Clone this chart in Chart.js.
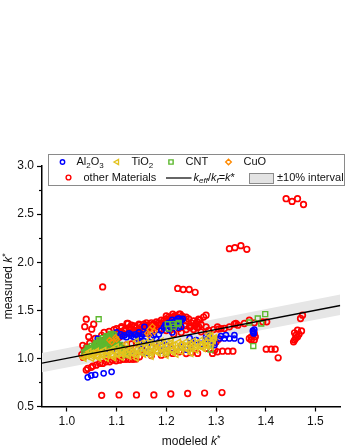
<!DOCTYPE html>
<html><head><meta charset="utf-8">
<script src="https://cdn.jsdelivr.net/npm/chart.js@4.4.1/dist/chart.umd.min.js"></script>
<style>html,body{margin:0;padding:0;background:#fff}#wrap{width:346px;height:448px;position:relative}</style>
</head><body><div id="wrap"><canvas id="c" width="346" height="448"></canvas></div>
<script>
// ---------- data ----------
const xTicks = [1.0, 1.1, 1.2, 1.3, 1.4, 1.5];
const yTicks = [0.5, 1.0, 1.5, 2.0, 2.5, 3.0];
const yMinorTicks = [0.75, 1.25, 1.75, 2.25, 2.75];
const xRange = [0.95, 1.55];
const yRange = [0.5, 3.0];
const lineX = [0.95, 1.55];
const lineY = [0.95, 1.55];
const bandUpper = [1.055, 1.665];
const bandLower = [0.855, 1.45];

const al2o3 = [
 [1.042,0.803],[1.049,0.823],[1.057,0.83],[1.074,0.845],[1.090,0.86],
 [1.080,1.05],[1.100,1.07],[1.130,1.08],[1.150,1.10],[1.170,1.12],[1.190,1.08],[1.210,1.10],[1.230,1.12],[1.250,1.14],[1.270,1.15],[1.120,1.04],[1.160,1.06],[1.200,1.14],[1.240,1.09],
 [1.116,1.24],[1.125,1.26],[1.130,1.235],[1.138,1.25],[1.145,1.27],[1.150,1.23],[1.120,1.22],[1.156,1.328],[1.160,1.26],[1.170,1.22],[1.175,1.24],[1.180,1.20],[1.185,1.25],[1.190,1.29],[1.195,1.32],[1.200,1.338],[1.205,1.30],[1.210,1.36],[1.215,1.38],[1.223,1.415],[1.230,1.397],[1.226,1.415],[1.220,1.34],[1.230,1.33],[1.212,1.27],[1.062,1.207],[1.100,1.27],[1.108,1.25],
 [1.198,1.35],[1.205,1.37],[1.212,1.40],[1.218,1.39],[1.222,1.37],[1.227,1.39],[1.233,1.41],[1.217,1.35],[1.208,1.33],[1.225,1.32],
 [1.112,1.23],[1.128,1.25],[1.135,1.22],[1.142,1.24],[1.152,1.25],[1.148,1.21],
 [1.146,1.17],[1.155,1.18],[1.186,1.17],[1.247,1.21],[1.260,1.19],[1.280,1.225],[1.283,1.20],[1.290,1.18],[1.295,1.16],[1.297,1.14],[1.287,1.24],
 [1.307,1.207],[1.317,1.207],[1.327,1.207],[1.337,1.207],[1.310,1.231],[1.320,1.242],[1.337,1.242],[1.350,1.183],[1.374,1.286],[1.376,1.259],[1.377,1.30],[1.375,1.27]
];
const tio2 = [
 [1.035,1.0],[1.05,1.0],[1.065,1.0],[1.08,1.0],[1.095,1.005],[1.11,1.01],[1.125,1.02],[1.14,1.03],[1.155,1.04],[1.17,1.045],[1.185,1.05],[1.20,1.055],[1.215,1.06],[1.23,1.07],[1.245,1.08],[1.26,1.085],
 [1.032,1.02],[1.042,1.02],[1.052,1.02],[1.062,1.025],[1.072,1.025],[1.082,1.03],[1.092,1.03],[1.102,1.035],[1.112,1.04],[1.122,1.04],[1.132,1.045],[1.142,1.05],[1.152,1.055],[1.162,1.06],[1.172,1.065],[1.182,1.07],[1.192,1.075],[1.202,1.08],[1.212,1.085],[1.222,1.09],[1.232,1.095],[1.242,1.10],[1.252,1.105],[1.262,1.11],[1.272,1.12],[1.282,1.125],[1.292,1.16],
 [1.04,1.04],[1.055,1.04],[1.07,1.045],[1.085,1.05],[1.10,1.055],[1.115,1.06],[1.13,1.065],[1.145,1.07],[1.16,1.08],[1.175,1.09],[1.19,1.10],[1.205,1.10],[1.22,1.11],[1.235,1.12],[1.25,1.125],[1.265,1.13],[1.28,1.14],
 [1.05,1.055],[1.065,1.06],[1.08,1.065],[1.095,1.07],[1.11,1.08],[1.125,1.085],[1.14,1.095],[1.155,1.105],[1.17,1.115],[1.185,1.125],[1.20,1.13],[1.215,1.14],[1.23,1.145],[1.245,1.15],[1.26,1.16],[1.275,1.165],[1.295,1.185],[1.29,1.24],[1.298,1.22],
 [1.045,1.07],[1.06,1.075],[1.075,1.085],[1.09,1.09],[1.105,1.095],[1.12,1.105],[1.135,1.115],[1.15,1.13],[1.165,1.14],[1.18,1.15],[1.195,1.16],[1.21,1.165],[1.225,1.17],[1.24,1.175],[1.255,1.18],[1.27,1.19],[1.285,1.21],
 [1.28,1.17],[1.29,1.23],[1.285,1.25],[1.295,1.20],[1.29,1.12],[1.275,1.10],[1.14,1.18],[1.16,1.17],[1.12,1.15],[1.10,1.12],
 [1.15,1.16],[1.17,1.17],[1.19,1.18],[1.21,1.19],
 [1.17,1.02],[1.20,1.03],[1.22,1.04],[1.25,1.05],[1.14,1.0]
];
const cnt = [
 [1.064,1.408],
 [1.035,1.06],[1.04,1.08],[1.045,1.10],[1.05,1.09],[1.055,1.12],[1.06,1.11],[1.062,1.14],[1.068,1.13],[1.07,1.16],[1.075,1.15],[1.078,1.19],[1.082,1.17],[1.085,1.22],[1.088,1.20],[1.089,1.255],[1.092,1.15],[1.095,1.24],[1.065,1.19],[1.058,1.15],[1.05,1.13],[1.042,1.11],[1.072,1.21],[1.08,1.23],[1.098,1.13],[1.105,1.12],[1.11,1.10],[1.116,1.06],[1.118,1.034],
 [1.038,1.07],[1.046,1.085],[1.052,1.10],[1.057,1.105],[1.063,1.12],[1.068,1.15],[1.073,1.17],[1.077,1.165],[1.08,1.20],[1.084,1.19],[1.087,1.235],[1.091,1.22],[1.094,1.20],[1.097,1.18],[1.10,1.16],[1.102,1.14],[1.09,1.13],[1.083,1.14],[1.076,1.125],[1.07,1.11],[1.062,1.095],[1.055,1.08],[1.048,1.065],[1.085,1.16],[1.079,1.215],[1.093,1.25],[1.099,1.20],[1.107,1.14],[1.113,1.08],[1.06,1.16],[1.066,1.175],
 [1.203,1.356],[1.213,1.356],[1.223,1.356],[1.205,1.31],[1.215,1.33],[1.225,1.37],
 [1.201,1.062],[1.289,1.093],
 [1.367,1.373],[1.384,1.415],[1.399,1.46],[1.391,1.363],[1.375,1.128]
];
const cuo = [
 [1.086,1.19],[1.098,1.218],[1.09,1.17],[1.10,1.20],[1.162,1.26],[1.167,1.30],[1.172,1.33],[1.176,1.28],[1.165,1.24],[1.18,1.12],[1.21,1.13],[1.23,1.15],[1.13,1.10],[1.06,1.06],[1.25,1.16]
];
const otherMaterials = [
 [1.070,0.616],[1.105,0.62],[1.140,0.62],[1.175,0.62],[1.209,0.63],[1.243,0.635],[1.277,0.64],[1.312,0.645],
 [1.441,2.66],[1.453,2.632],[1.464,2.66],[1.476,2.60],
 [1.327,2.141],[1.338,2.151],[1.350,2.172],[1.362,2.134],
 [1.223,1.727],[1.234,1.716],[1.246,1.716],[1.258,1.687],
 [1.072,1.743],
 [1.039,1.408],[1.036,1.33],[1.050,1.304],[1.054,1.356],[1.044,1.226],[1.032,1.135],[1.046,1.158],[1.057,1.207],[1.042,1.085],[1.030,1.04],[1.035,1.08],[1.040,1.12],[1.033,1.01],
 [1.109,1.317],[1.123,1.363],[1.136,1.335],[1.150,1.328],[1.160,1.37],[1.170,1.37],[1.180,1.38],[1.190,1.397],[1.200,1.442],[1.213,1.432],[1.226,1.46],[1.213,1.46],[1.228,1.46],[1.265,1.408],[1.280,1.449],[1.250,1.338],[1.280,1.328],[1.270,1.276],[1.247,1.335],
 [1.121,1.363],[1.135,1.335],[1.146,1.345],[1.126,1.294],[1.139,1.276],[1.113,1.259],[1.099,1.231],[1.086,1.156],[1.092,1.218],
 [1.105,1.28],[1.118,1.30],[1.130,1.31],[1.145,1.30],[1.158,1.34],[1.165,1.31],[1.175,1.345],[1.185,1.35],[1.195,1.37],[1.205,1.40],[1.215,1.405],[1.225,1.42],[1.235,1.42],[1.240,1.39],[1.250,1.37],[1.260,1.36],[1.255,1.30],[1.262,1.32],[1.240,1.30],[1.230,1.27],[1.215,1.25],[1.190,1.30],[1.170,1.28],[1.155,1.27],[1.100,1.19],[1.080,1.19],[1.070,1.24],[1.065,1.17],[1.075,1.14],[1.095,1.145],
 [1.110,1.33],[1.115,1.29],[1.125,1.32],[1.130,1.345],[1.140,1.32],[1.145,1.355],[1.155,1.355],[1.160,1.32],[1.165,1.35],[1.175,1.36],[1.180,1.33],[1.185,1.37],[1.190,1.36],[1.195,1.39],[1.200,1.41],[1.205,1.43],[1.210,1.42],[1.218,1.445],[1.220,1.43],[1.232,1.44],[1.240,1.43],[1.245,1.41],[1.255,1.39],[1.262,1.38],[1.268,1.40],[1.275,1.43],[1.270,1.35],[1.265,1.33],[1.258,1.34],[1.248,1.32],[1.238,1.34],[1.225,1.31],[1.210,1.32],[1.200,1.29],[1.185,1.30],[1.170,1.32],[1.155,1.30],[1.140,1.29],[1.125,1.27],[1.110,1.25],[1.105,1.22],[1.090,1.24],[1.082,1.21],[1.075,1.27],[1.085,1.28],[1.095,1.30],[1.100,1.31],
 [1.060,1.10],[1.080,1.12],[1.100,1.13],[1.120,1.14],[1.140,1.16],[1.050,1.07],[1.070,1.10],[1.090,1.11],[1.110,1.125],[1.130,1.15],
 [1.039,0.879],[1.049,0.907],[1.059,0.93],[1.072,0.948],[1.086,0.965],[1.099,0.975],[1.113,0.99],[1.126,0.99],[1.139,0.993],[1.042,0.896],[1.052,0.92],[1.066,0.948],[1.079,0.965],[1.092,0.982],[1.106,0.982],[1.119,0.99],[1.133,0.99],[1.146,1.017],
 [1.153,1.086],[1.190,1.034],[1.213,1.052],[1.226,1.068],[1.263,1.052],[1.280,1.104],[1.170,1.03],[1.200,1.045],[1.240,1.05],[1.250,1.06],
 [1.293,1.052],[1.303,1.068],[1.313,1.075],[1.324,1.075],[1.334,1.075],[1.297,1.086],
 [1.285,1.29],[1.295,1.30],[1.305,1.305],[1.310,1.31],[1.300,1.17],[1.305,1.20],
 [1.303,1.328],[1.337,1.356],[1.317,1.311],[1.327,1.328],[1.344,1.345],[1.357,1.363],[1.377,1.37],[1.394,1.38],[1.340,1.363],[1.367,1.397],[1.402,1.38],
 [1.377,1.19],[1.371,1.224],[1.377,1.259],[1.367,1.207],[1.379,1.224],[1.371,1.19],
 [1.401,1.096],[1.411,1.096],[1.419,1.096],[1.425,1.006],
 [1.470,1.415],[1.474,1.449],
 [1.458,1.266],[1.464,1.294],[1.472,1.286],[1.461,1.242],[1.467,1.252],[1.458,1.19],[1.460,1.207],[1.456,1.172],[1.464,1.224]
];

// ---------- colours / fonts ----------
const FONT = "'Liberation Sans', Arial, sans-serif";
const C_BLUE = '#0000ff', C_YEL = '#e3c21c', C_GREEN = '#5cb82e', C_ORANGE = '#ff8a00', C_RED = '#ff0000';

const toPts = arr => arr.map(p => ({x: p[0], y: p[1]}));
const pair = (xs, ys) => xs.map((x, i) => ({x, y: ys[i]}));

function drawSubText(ctx, parts, x, y) {
  for (const [t, o] of parts) {
    const opt = o || {};
    const size = opt.sub || opt.sup ? 8 : 11;
    ctx.font = (opt.italic ? 'italic ' : '') + size + 'px ' + FONT;
    const dy = opt.sub ? 3.5 : (opt.sup ? -3.5 : 0);
    ctx.fillText(t, x, y + dy);
    x += ctx.measureText(t).width;
  }
  return x;
}

const overlay = {
  id: 'overlay',
  afterDraw(chart) {
    const ctx = chart.ctx;
    const ys = chart.scales.y;
    const area = chart.chartArea;
    ctx.save();
    ctx.strokeStyle = '#000'; ctx.lineWidth = 1.2;
    for (const v of yMinorTicks) {
      const py = Math.round(ys.getPixelForValue(v)) + 0.5;
      ctx.beginPath(); ctx.moveTo(area.left - 3, py); ctx.lineTo(area.left, py); ctx.stroke();
    }
    ctx.fillStyle = '#111';
    ctx.textBaseline = 'middle';
    ctx.font = '12px ' + FONT;
    const t1 = 'modeled ';
    const w1 = ctx.measureText(t1).width;
    ctx.font = 'italic 12px ' + FONT; const w2 = ctx.measureText('k').width;
    ctx.font = '9px ' + FONT; const w3 = ctx.measureText('*').width;
    let cx = (area.left + area.right) / 2 - (w1 + w2 + w3) / 2;
    const ty = 441.5;
    ctx.font = '12px ' + FONT; ctx.fillText(t1, cx, ty); cx += w1;
    ctx.font = 'italic 12px ' + FONT; ctx.fillText('k', cx, ty); cx += w2;
    ctx.font = '9px ' + FONT; ctx.fillText('*', cx, ty - 3);

    ctx.save();
    ctx.translate(9, (area.top + area.bottom) / 2);
    ctx.rotate(-Math.PI / 2);
    ctx.font = '12px ' + FONT; const m1 = ctx.measureText('measured ').width;
    let sx = -(m1 + w2 + w3) / 2;
    ctx.fillText('measured ', sx, 0); sx += m1;
    ctx.font = 'italic 12px ' + FONT; ctx.fillText('k', sx, 0); sx += w2;
    ctx.font = '9px ' + FONT; ctx.fillText('*', sx, -3);
    ctx.restore();

    // legend box
    ctx.fillStyle = '#fff';
    ctx.fillRect(48.5, 154.5, 296, 31);
    ctx.strokeStyle = '#8a8a8a'; ctx.lineWidth = 1;
    ctx.strokeRect(48.5, 154.5, 296, 31);
    const r1 = 162, r2 = 177.5;
    const mk = (style, color, x, y, r, rot) => {
      ctx.save();
      ctx.fillStyle = 'rgba(0,0,0,0)';
      ctx.strokeStyle = color; ctx.lineWidth = 1.4;
      Chart.helpers.drawPoint(ctx, {pointStyle: style, radius: r, rotation: rot || 0, borderWidth: 1.4}, x, y);
      ctx.restore();
    };
    ctx.fillStyle = '#111';
    mk('circle', C_BLUE, 62.5, r1, 2.2);
    drawSubText(ctx, [['Al'], ['2', {sub: true}], ['O'], ['3', {sub: true}]], 76.5, r1);
    mk('triangle', C_YEL, 117, r1, 3, 270);
    drawSubText(ctx, [['TiO'], ['2', {sub: true}]], 131.5, r1);
    mk('rect', C_GREEN, 171, r1, 3);
    drawSubText(ctx, [['CNT']], 185.5, r1);
    mk('rectRot', C_ORANGE, 228.5, r1, 2.8);
    drawSubText(ctx, [['CuO']], 243.5, r1);

    mk('circle', C_RED, 68.5, r2, 2.4);
    drawSubText(ctx, [['other Materials']], 83.5, r2);
    ctx.strokeStyle = '#000'; ctx.lineWidth = 1.2;
    ctx.beginPath(); ctx.moveTo(166, r2 + 0.5); ctx.lineTo(191.5, r2 + 0.5); ctx.stroke();
    drawSubText(ctx, [['k', {italic: true}], ['eff', {italic: true, sub: true}], ['/'], ['k', {italic: true}], ['f', {italic: true, sub: true}], ['='], ['k', {italic: true}], ['*']], 193.5, r2);
    ctx.fillStyle = '#e3e3e3';
    ctx.fillRect(249.5, 173.5, 24, 10);
    ctx.strokeStyle = '#8a8a8a'; ctx.lineWidth = 1;
    ctx.strokeRect(249.5, 173.5, 24, 10);
    ctx.fillStyle = '#111';
    drawSubText(ctx, [['\u00b110% interval']], 277, r2);
    ctx.restore();
  }
};

const scatterDs = (label, data, style, color, r, bw, rot, order) => ({
  label, data: toPts(data), showLine: false,
  pointStyle: style, rotation: rot || 0, pointRadius: r,
  borderColor: color, backgroundColor: 'rgba(0,0,0,0)', pointBorderWidth: bw, borderWidth: bw,
  order
});

const ctx = document.getElementById('c').getContext('2d');
new Chart(ctx, {
  type: 'scatter',
  data: {
    datasets: [
      {type: 'line', label: 'keff/kf=k*', data: pair(lineX, lineY), showLine: true, borderColor: '#000', borderWidth: 1.3, pointRadius: 0, fill: false, order: 0},
      scatterDs('TiO2', tio2, 'triangle', C_YEL, 3.3, 1.4, 270, 1),
      scatterDs('CuO', cuo, 'rectRot', C_ORANGE, 2.8, 1.3, 0, 2),
      scatterDs('CNT', cnt, 'rect', C_GREEN, 3.5, 1.4, 0, 3),
      scatterDs('Al2O3', al2o3, 'circle', C_BLUE, 2.6, 1.5, 0, 4),
      scatterDs('other Materials', otherMaterials, 'circle', C_RED, 2.8, 1.7, 0, 5),
      {type: 'line', label: 'band upper', data: pair(lineX, bandUpper), showLine: true, borderWidth: 0, borderColor: 'rgba(0,0,0,0)', pointRadius: 0, fill: 7, backgroundColor: '#e6e6e6', order: 10},
      {type: 'line', label: 'band lower', data: pair(lineX, bandLower), showLine: true, borderWidth: 0, borderColor: 'rgba(0,0,0,0)', pointRadius: 0, fill: false, order: 11}
    ]
  },
  options: {
    responsive: false, animation: false, devicePixelRatio: 1,
    layout: {padding: {top: 166, right: 4, left: 0, bottom: 0}},
    plugins: {legend: {display: false}, tooltip: {enabled: false}, title: {display: false}},
    scales: {
      x: {
        type: 'linear', min: xRange[0], max: xRange[1],
        afterBuildTicks: s => { s.ticks = xTicks.map(v => ({value: v})); },
        afterFit: s => { s.height = 41.5; },
        ticks: {font: {family: FONT, size: 12}, color: '#111', padding: 3, maxRotation: 0, autoSkip: false, callback: v => Number(v).toFixed(1)},
        grid: {display: true, drawOnChartArea: false, drawTicks: true, tickLength: 5, tickColor: '#000', tickWidth: 1.2},
        border: {display: true, color: '#000', width: 1.5}
      },
      y: {
        type: 'linear', min: yRange[0], max: yRange[1],
        afterBuildTicks: s => { s.ticks = yTicks.map(v => ({value: v})); },
        afterFit: s => { s.width = 42; },
        ticks: {font: {family: FONT, size: 12}, color: '#111', padding: 3, autoSkip: false, callback: v => Number(v).toFixed(1)},
        grid: {display: true, drawOnChartArea: false, drawTicks: true, tickLength: 5, tickColor: '#000', tickWidth: 1.2},
        border: {display: true, color: '#000', width: 1.5}
      }
    }
  },
  plugins: [overlay]
});
</script>
</body></html>
